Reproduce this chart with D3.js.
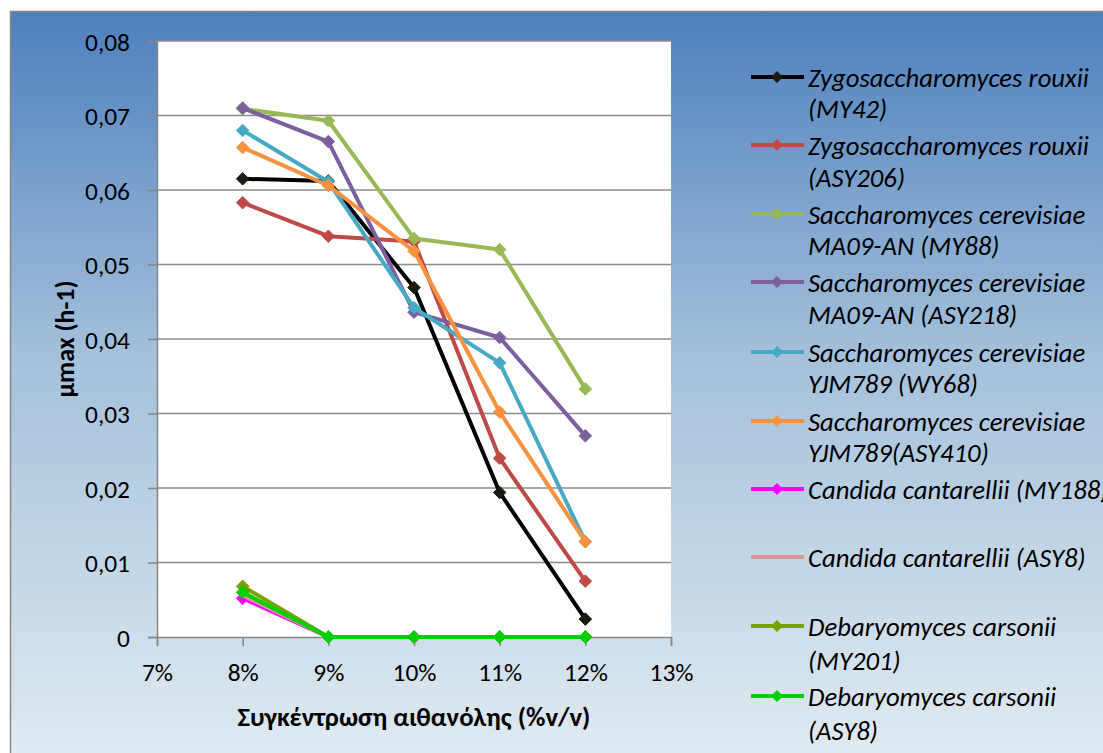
<!DOCTYPE html>
<html>
<head>
<meta charset="utf-8">
<script src="https://cdn.jsdelivr.net/npm/d3@7"></script>
<style>
  html, body { margin: 0; padding: 0; background: #ffffff; }
  svg { display: block; }
  text { font-family: Carlito, Lato, "Open Sans", sans-serif; }
</style>
</head>
<body>
<svg id="chart" width="1103" height="753"></svg>
<script>
// Ethanol concentrations (x) and maximum specific growth rate μmax (h-1) per strain
const concentrations = [0.08, 0.09, 0.10, 0.11, 0.12];

const seriesNames = [
  ["Zygosaccharomyces rouxii", "(MY42)"],
  ["Zygosaccharomyces rouxii", "(ASY206)"],
  ["Saccharomyces cerevisiae", "MA09-AN (MY88)"],
  ["Saccharomyces cerevisiae", "MA09-AN (ASY218)"],
  ["Saccharomyces cerevisiae", "YJM789 (WY68)"],
  ["Saccharomyces cerevisiae", "YJM789(ASY410)"],
  ["Candida cantarellii (MY188)"],
  ["Candida cantarellii (ASY8)"],
  ["Debaryomyces carsonii", "(MY201)"],
  ["Debaryomyces carsonii", "(ASY8)"]
];

const zrMY42    = [0.0615, 0.0612, 0.0469, 0.0194, 0.0024];
const zrASY206  = [0.0583, 0.0538, 0.0531, 0.0240, 0.0075];
const scMY88    = [0.0709, 0.0693, 0.0535, 0.0520, 0.0333];
const scASY218  = [0.0710, 0.0665, 0.0436, 0.0402, 0.0270];
const scWY68    = [0.0680, 0.0611, 0.0442, 0.0368, 0.0128];
const scASY410  = [0.0657, 0.0606, 0.0518, 0.0302, 0.0128];
const ccMY188   = [0.0052, 0, 0, 0, 0];
const ccASY8    = [0.0056, 0, 0, 0, 0];
const dcMY201   = [0.0068, 0, 0, 0, 0];
const dcASY8    = [0.0060, 0, 0, 0, 0];

const seriesValues = [zrMY42, zrASY206, scMY88, scASY218, scWY68, scASY410, ccMY188, ccASY8, dcMY201, dcASY8];
const seriesColors = ["#000000", "#be4b48", "#98b954", "#7d5fa0", "#46aac5", "#f69240", "#ff00ff", "#d99694", "#77a000", "#00d000"];
const markerFill   = ["#1d1b10", "#be4b48", "#98b954", "#7d5fa0", "#46aac5", "#f69240", "#ff00ff", null, "#77a000", "#00d000"];

const yTicks = [0, 0.01, 0.02, 0.03, 0.04, 0.05, 0.06, 0.07, 0.08];
const xTicks = [0.07, 0.08, 0.09, 0.10, 0.11, 0.12, 0.13];
const xTitle = "Συγκέντρωση αιθανόλης (%v/v)";
const yTitle = "μmax (h-1)";

const FONT = "Carlito, Lato, 'Open Sans', sans-serif";
const svg = d3.select("#chart");

// Pick a font size so that a sample string renders at the wanted width
function fitSize(sample, targetWidth, opts = {}) {
  const t = svg.append("text")
    .attr("font-size", 20)
    .attr("font-weight", opts.bold ? "bold" : null)
    .attr("font-style", opts.italic ? "italic" : null)
    .style("font-family", FONT)
    .text(sample);
  const w = t.node().getComputedTextLength();
  t.remove();
  return w > 0 ? 20 * targetWidth / w : 20;
}
const tickSize   = fitSize("0,08", 45);
const legendSize = fitSize("Zygosaccharomyces rouxii", 281, { italic: true });
const xTitleSize = fitSize(xTitle, 353, { bold: true });
const yTitleSize = fitSize(yTitle, 117, { bold: true });

// Chart-area background: vertical blue gradient with grey border
const defs = svg.append("defs");
const grad = defs.append("linearGradient").attr("id", "bg").attr("x1", 0).attr("y1", 0).attr("x2", 0).attr("y2", 1);
grad.append("stop").attr("offset", "0%").attr("stop-color", "#4e7fbd");
grad.append("stop").attr("offset", "45%").attr("stop-color", "#a4c0da");
grad.append("stop").attr("offset", "100%").attr("stop-color", "#e2ecf2");

svg.append("rect")
  .attr("x", 10.5).attr("y", 11.5).attr("width", 1110).attr("height", 760)
  .attr("fill", "url(#bg)").attr("stroke", "#878787").attr("stroke-width", 1.5);

const x = d3.scaleLinear().domain([0.07, 0.13]).range([157, 671]);
const y = d3.scaleLinear().domain([0, 0.08]).range([637, 41]);

// Plot area
svg.append("rect")
  .attr("x", x(0.07)).attr("y", y(0.08))
  .attr("width", x(0.13) - x(0.07)).attr("height", y(0) - y(0.08))
  .attr("fill", "#ffffff");

// Horizontal gridlines
svg.append("g")
  .selectAll("line").data(yTicks.filter(d => d > 0)).join("line")
  .attr("x1", x(0.07)).attr("x2", x(0.13))
  .attr("y1", d => y(d)).attr("y2", d => y(d))
  .attr("stroke", "#8c8c8c").attr("stroke-width", 1.5);

const fmtY = d => d === 0 ? "0" : d3.format(".2f")(d).replace(".", ",");
const fmtX = d => Math.round(d * 100) + "%";

const yAxis = svg.append("g")
  .attr("transform", `translate(${x(0.07)},0)`)
  .call(d3.axisLeft(y).tickValues(yTicks).tickFormat(fmtY).tickSize(9).tickPadding(18));
const xAxis = svg.append("g")
  .attr("transform", `translate(0,${y(0)})`)
  .call(d3.axisBottom(x).tickValues(xTicks).tickFormat(fmtX).tickSize(9).tickPadding(12));

[yAxis, xAxis].forEach(g => {
  g.attr("font-size", tickSize).attr("font-family", null);
  g.selectAll("path, line").attr("stroke", "#868686").attr("stroke-width", 1.5);
  g.selectAll("text").attr("font-size", tickSize).attr("fill", "#000000")
    .style("font-family", FONT);
});
yAxis.selectAll("text").attr("dy", "0.36em");
xAxis.selectAll("text").attr("dy", "0.9em");

// Axis titles
svg.append("text")
  .attr("x", 414).attr("y", 716).attr("dy", "0.36em")
  .attr("text-anchor", "middle").attr("font-size", xTitleSize).attr("font-weight", "bold")
  .text(xTitle);
svg.append("text")
  .attr("transform", `translate(65,339) rotate(-90)`)
  .attr("dy", "0.36em")
  .attr("text-anchor", "middle").attr("font-size", yTitleSize).attr("font-weight", "bold")
  .text(yTitle);

// Series lines and diamond markers
const line = d3.line().x((d, i) => x(concentrations[i])).y(d => y(d));
const diamond = d3.symbol().type(d3.symbolDiamond2).size(100);

seriesValues.forEach((vals, s) => {
  const g = svg.append("g");
  g.append("path")
    .datum(vals)
    .attr("d", line)
    .attr("fill", "none")
    .attr("stroke", seriesColors[s])
    .attr("stroke-width", 4)
    .attr("stroke-linejoin", "round");
  if (markerFill[s]) {
    g.selectAll("path.m").data(vals).join("path")
      .attr("class", "m")
      .attr("d", diamond)
      .attr("transform", (d, i) => `translate(${x(concentrations[i])},${y(d)})`)
      .attr("fill", markerFill[s])
      .attr("stroke", markerFill[s])
      .attr("stroke-width", 1);
  }
});

// Legend
const legendTop = [77, 145, 214, 282, 352, 421, 489, 557, 626, 696];
const lineGap = [31, 32, 31, 32, 31, 31, 0, 0, 34, 34];
const legend = svg.append("g");
seriesNames.forEach((name, s) => {
  const cy = legendTop[s];
  const item = legend.append("g");
  item.append("line")
    .attr("x1", 751).attr("x2", 804).attr("y1", cy).attr("y2", cy)
    .attr("stroke", seriesColors[s]).attr("stroke-width", 4);
  if (markerFill[s]) {
    item.append("path")
      .attr("d", d3.symbol().type(d3.symbolDiamond2).size(90))
      .attr("transform", `translate(777,${cy})`)
      .attr("fill", markerFill[s]);
  }
  name.forEach((ln, k) => {
    item.append("text")
      .attr("x", 808).attr("y", cy + k * lineGap[s])
      .attr("dy", "0.36em")
      .attr("font-size", legendSize).attr("font-style", "italic")
      .attr("fill", "#000000")
      .text(ln);
  });
});
</script>
</body>
</html>
